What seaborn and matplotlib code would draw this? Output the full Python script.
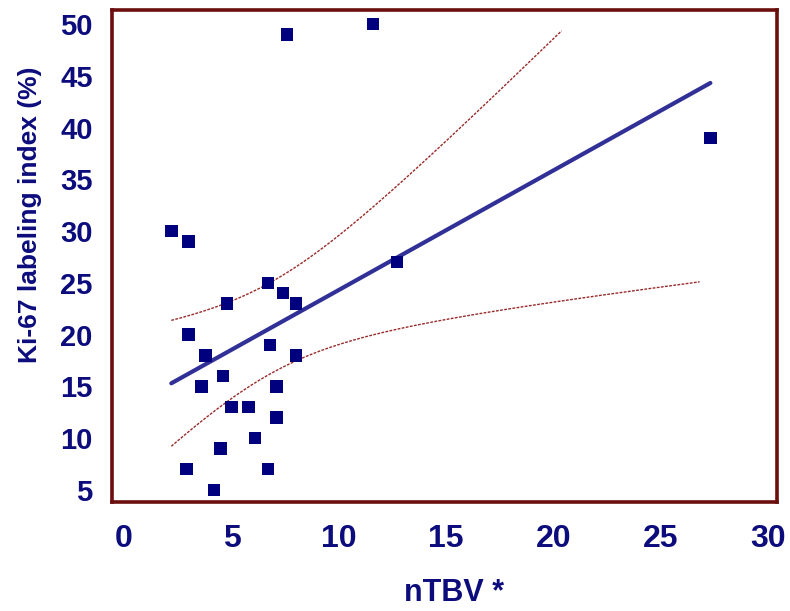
import numpy as np
import pandas as pd
import matplotlib
matplotlib.use("Agg")
import matplotlib.pyplot as plt
import seaborn as sns

# values
ntbv = [2.2, 3.0, 3.0, 2.9, 3.8, 3.6, 4.6, 4.5, 4.2, 4.8, 5.0, 5.8, 6.1,
        6.7, 6.7, 6.8, 7.4, 7.1, 7.1, 8.0, 8.0, 7.6, 11.6, 12.7, 27.3]
ki67 = [30, 29, 20, 7, 18, 15, 16, 9, 5, 23, 13, 13, 10,
        7, 25, 19, 24, 15, 12, 23, 18, 49, 50, 27, 39]

x_ticks = [0, 5, 10, 15, 20, 25, 30]
y_ticks = [5, 10, 15, 20, 25, 30, 35, 40, 45, 50]

NAVY = "#00007f"
TEXT = "#0c0c7c"
LINE = "#303096"
FRAME = "#6a0e0e"
CI_COL = "#9a2a2a"

df = pd.DataFrame({"nTBV": ntbv, "Ki67": ki67})

# 95% confidence band of the mean regression line
x = df["nTBV"].to_numpy()
y = df["Ki67"].to_numpy()
n = len(x)
slope, intercept = np.polyfit(x, y, 1)
resid = y - (slope * x + intercept)
s = np.sqrt(np.sum(resid ** 2) / (n - 2))
sxx = np.sum((x - x.mean()) ** 2)
t_crit = 2.069  # t(0.975, df=23)
xg = np.linspace(x.min(), 26.8, 200)
yg = slope * xg + intercept
half = t_crit * s * np.sqrt(1 / n + (xg - x.mean()) ** 2 / sxx)
upper = np.where(yg + half <= y.max() - 0.6, yg + half, np.nan)
lower = yg - half
band = pd.DataFrame({"x": xg, "upper": upper, "lower": lower})

sns.set_theme(style="white")
plt.rcParams["font.family"] = ["Liberation Sans", "DejaVu Sans"]

fig = plt.figure(figsize=(7.9, 6.11), dpi=100)
ax = fig.add_axes([0.1418, 0.1784, 0.8417, 0.8052])

sns.lineplot(data=band, x="x", y="upper", ax=ax, color=CI_COL, lw=1.0,
             linestyle=(0, (2, 1)))
sns.lineplot(data=band, x="x", y="lower", ax=ax, color=CI_COL, lw=1.0,
             linestyle=(0, (2, 1)))
sns.regplot(data=df, x="nTBV", y="Ki67", ax=ax, scatter=False, ci=None,
            truncate=True, line_kws={"color": LINE, "lw": 3})
sns.scatterplot(data=df, x="nTBV", y="Ki67", ax=ax, marker="s", s=80,
                color=NAVY, edgecolor="none", zorder=5)

ax.set_xlim(-0.56, 30.4)
ax.set_ylim(3.84, 51.35)
ax.set_xticks(x_ticks)
ax.set_yticks(y_ticks)
ax.tick_params(direction="in", length=11, width=1.0, color=FRAME,
               labelcolor=TEXT)
ax.tick_params(axis="x", pad=16)
ax.tick_params(axis="y", pad=14)
for lab in ax.get_xticklabels():
    lab.set_fontsize(23)
    lab.set_fontweight("bold")
for lab in ax.get_yticklabels():
    lab.set_fontsize(21)
    lab.set_fontweight("bold")
for sp in ax.spines.values():
    sp.set_color(FRAME)
    sp.set_linewidth(2.6)

ax.set_xlabel("nTBV *", fontsize=22, fontweight="bold", color=TEXT)
ax.set_ylabel("Ki-67 labeling index (%)", fontsize=19, fontweight="bold",
              color=TEXT)
ax.xaxis.set_label_coords(0.514, -0.154)
ax.yaxis.set_label_coords(-0.105, 0.583)

fig.savefig("out.png", dpi=100)
